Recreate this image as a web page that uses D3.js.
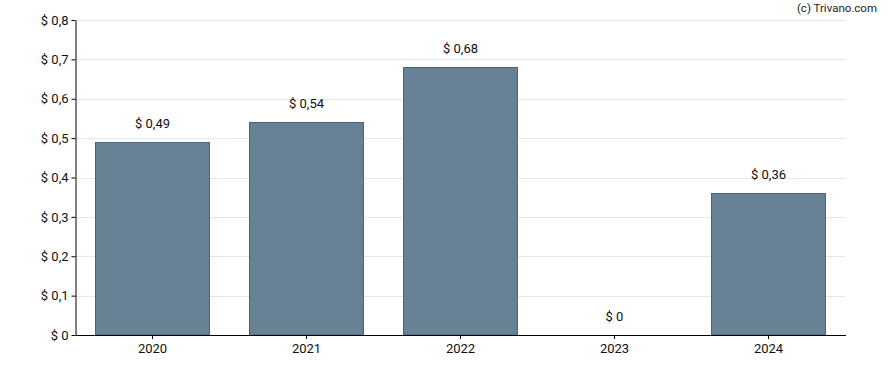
<!DOCTYPE html>
<html>
<head>
<meta charset="utf-8">
<script src="https://cdn.jsdelivr.net/npm/d3@7.9.0/dist/d3.min.js"></script>
<style>
  body { margin: 0; background: #fff; }
  svg { display: block; font-family: Roboto, "Noto Sans", sans-serif; }
</style>
</head>
<body>
<div id="chart"></div>
<script>
// === Data ===
const years = ["2020", "2021", "2022", "2023", "2024"];
const values = [0.49, 0.54, 0.68, 0, 0.36];
const yTicks = [0, 0.1, 0.2, 0.3, 0.4, 0.5, 0.6, 0.7, 0.8];

// === Dimensions ===
const width = 888, height = 370;
const margin = { top: 20, right: 42.5, bottom: 35, left: 75.5 };
const innerW = width - margin.left - margin.right;
const innerH = height - margin.top - margin.bottom;

const fmt = v => "$ " + (v === 0 ? "0" : String(v).replace(".", ","));

const svg = d3.select("#chart").append("svg")
    .attr("width", width)
    .attr("height", height);

const g = svg.append("g")
    .attr("transform", `translate(${margin.left},${margin.top})`);

// Scales
const x = d3.scaleBand()
    .domain(years)
    .range([0, innerW])
    .paddingInner(0.26)
    .paddingOuter(0.13);

const y = d3.scaleLinear()
    .domain([0, 0.8])
    .range([innerH, 0]);

// Gridlines
g.append("g")
    .selectAll("line")
    .data(yTicks.filter(d => d > 0))
    .join("line")
    .attr("x1", 0)
    .attr("x2", innerW)
    .attr("y1", d => Math.round(y(d)) + 0.5)
    .attr("y2", d => Math.round(y(d)) + 0.5)
    .attr("stroke", "#e6e6e6")
    .attr("stroke-width", 1);

// Bars
g.append("g")
    .selectAll("rect")
    .data(values.map((v, i) => ({ year: years[i], value: v })).filter(d => d.value > 0))
    .join("rect")
    .attr("x", d => Math.round(x(d.year)))
    .attr("y", d => Math.round(y(d.value)) + 0.5)
    .attr("width", Math.round(x.bandwidth()))
    .attr("height", d => innerH - Math.round(y(d.value)) - 0.5)
    .attr("fill", "#668294")
    .attr("stroke", "#4b6478")
    .attr("stroke-width", 1);

// Value labels
g.append("g")
    .selectAll("text")
    .data(values.map((v, i) => ({ year: years[i], value: v })))
    .join("text")
    .attr("x", d => x(d.year) + x.bandwidth() / 2)
    .attr("y", d => y(d.value) - 14)
    .attr("text-anchor", "middle")
    .attr("font-size", 13)
    .attr("fill", "#111")
    .text(d => fmt(d.value));

// Axes
const yAxis = g.append("g")
    .call(d3.axisLeft(y).tickValues(yTicks).tickSize(4).tickPadding(3).tickFormat(fmt).tickSizeOuter(0));

const xAxis = g.append("g")
    .attr("transform", `translate(0,${innerH})`)
    .call(d3.axisBottom(x).tickSize(4).tickPadding(5).tickSizeOuter(0));

[yAxis, xAxis].forEach(a => {
    a.select(".domain").attr("stroke", "#000");
    a.selectAll(".tick line").attr("stroke", "#000");
    a.selectAll(".tick text")
        .attr("font-size", 13)
        .attr("fill", "#111")
        .attr("font-family", "Roboto, 'Noto Sans', sans-serif");
});

// Copyright
svg.append("text")
    .attr("x", 877)
    .attr("y", 12)
    .attr("text-anchor", "end")
    .attr("font-size", 11.5)
    .attr("fill", "#222")
    .text("(c) Trivano.com");
</script>
</body>
</html>
